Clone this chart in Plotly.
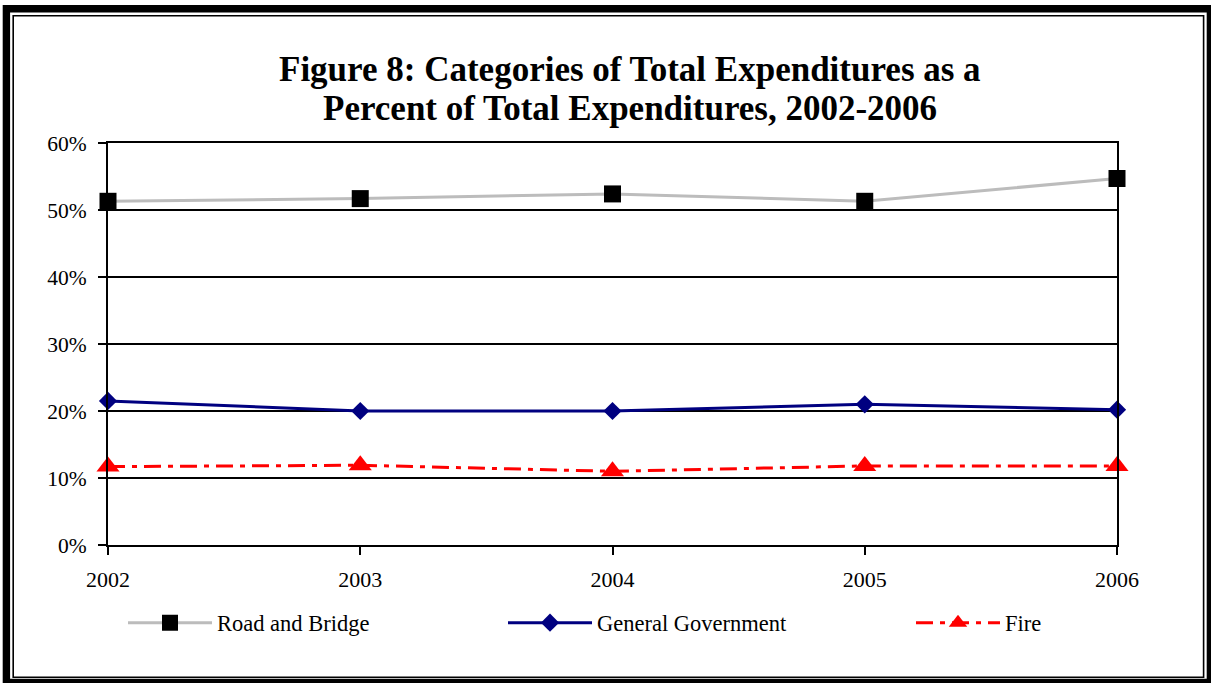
import plotly.graph_objects as go

years = [2002, 2003, 2004, 2005, 2006]
road_bridge = [51.3, 51.7, 52.4, 51.3, 54.7]
general_gov = [21.5, 20.0, 20.0, 21.0, 20.2]
fire = [11.7, 11.9, 11.0, 11.8, 11.8]
y_ticks = [0, 10, 20, 30, 40, 50, 60]
y_tick_labels = ["0%", "10%", "20%", "30%", "40%", "50%", "60%"]
title_lines = ["Figure 8: Categories of Total Expenditures as a",
               "Percent of Total Expenditures, 2002-2006"]

W, H = 1211, 683
L, R, T, B = 108, 1117, 143, 545
pw, ph = R - L, B - T

def px(x):
    return (x - L) / pw

def py(y):
    return (B - y) / ph

font = "Liberation Serif, Times New Roman, serif"

fig = go.Figure()
fig.add_trace(go.Scatter(
    x=years, y=road_bridge, name="Road and Bridge", mode="lines+markers",
    line=dict(color="#bcbcbc", width=3),
    marker=dict(symbol="square", size=17, color="black"),
    cliponaxis=False, legend="legend", showlegend=True))
fig.add_trace(go.Scatter(
    x=years, y=general_gov, name="General Government", mode="lines+markers",
    line=dict(color="#000080", width=3),
    marker=dict(symbol="diamond", size=14, color="#000080"),
    cliponaxis=False, legend="legend2", showlegend=True))
fig.add_trace(go.Scatter(
    x=years, y=fire, name="Fire", mode="lines+markers",
    line=dict(color="#ff0000", width=3, dash="17px,7px,5px,7px"),
    marker=dict(symbol="triangle-up", size=20, color="#ff0000"),
    cliponaxis=False, legend="legend3", showlegend=True))

shapes = [
    dict(type="rect", xref="paper", yref="paper",
         x0=px(6.4), x1=px(1210.4), y0=py(8.7), y1=py(682.5),
         line=dict(color="black", width=7.4), layer="below"),
    dict(type="rect", xref="paper", yref="paper",
         x0=px(13.2), x1=px(1203.6), y0=py(15.8), y1=py(677.3),
         line=dict(color="black", width=1.6), layer="below"),
]

annotations = [
    dict(text="<b>" + title_lines[0] + "</b>", xref="paper", yref="paper",
         x=px(630), y=py(69.5), xanchor="center", yanchor="middle",
         showarrow=False, font=dict(family=font, size=35, color="black")),
    dict(text="<b>" + title_lines[1] + "</b>", xref="paper", yref="paper",
         x=px(630), y=py(108.5), xanchor="center", yanchor="middle",
         showarrow=False, font=dict(family=font, size=35, color="black")),
]

def leg(xpix):
    return dict(
        orientation="h", x=px(xpix), xanchor="left",
        y=py(623), yanchor="middle", itemwidth=84,
        font=dict(family=font, size=22.5, color="black"),
        bgcolor="rgba(0,0,0,0)")

fig.update_layout(
    width=W, height=H, showlegend=True,
    margin=dict(l=L, r=W - R, t=T, b=H - B),
    paper_bgcolor="white", plot_bgcolor="white",
    font=dict(family=font, size=21, color="black"),
    xaxis=dict(
        range=[2002, 2006], tickvals=years, ticktext=[str(y) for y in years],
        showgrid=False, zeroline=False,
        showline=True, linecolor="black", linewidth=2, mirror=True,
        ticks="outside", ticklen=8, tickwidth=2, tickcolor="black",
        ticklabelstandoff=6, tickfont=dict(family=font, size=22, color="black")),
    yaxis=dict(
        range=[0, 60], tickvals=y_ticks, ticktext=y_tick_labels,
        showgrid=True, gridcolor="black", gridwidth=2, zeroline=False,
        showline=True, linecolor="black", linewidth=2, mirror=True,
        ticks="outside", ticklen=8, tickwidth=2, tickcolor="black",
        ticklabelstandoff=7, tickfont=dict(family=font, size=21.5, color="black")),
    legend=leg(123),
    legend2=leg(503),
    legend3=leg(911),
    shapes=shapes,
    annotations=annotations,
)

fig.write_html(
    "out.html",
    config={"displayModeBar": False},
    post_script="document.body.style.margin='0';document.body.style.overflow='hidden';")
